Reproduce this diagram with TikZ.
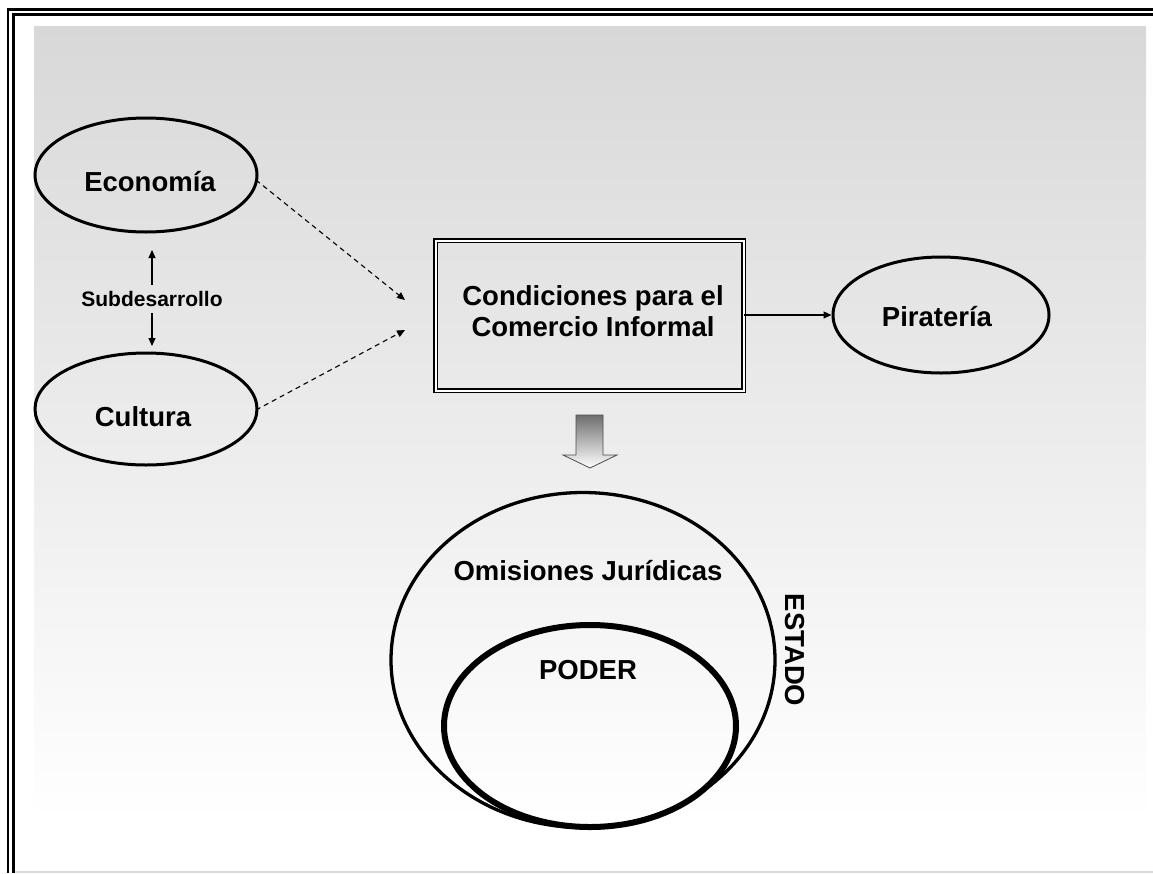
\documentclass[tikz,border=0pt]{standalone}
\usepackage{fontspec}
\setmainfont{Liberation Sans}
\usetikzlibrary{arrows.meta,shapes.geometric}
\definecolor{bgtop}{RGB}{216,216,216}
\definecolor{arrtop}{RGB}{110,110,110}
\tikzset{
  big/.style={font=\bfseries\fontsize{27.5}{31}\selectfont},
  oval/.style={ellipse, draw, line width=3pt, inner sep=0pt},
  arr/.style={-{Triangle[length=8pt,width=7pt]}, line width=1.1pt},
  darr/.style={arr, dashed, dash pattern=on 5pt off 4pt},
}
\begin{document}
\begin{tikzpicture}[x=1pt,y=-1pt]
\useasboundingbox (0,0) rectangle (1153,873);
\fill[white] (0,0) rectangle (1153,873);
% background gradient
\shade[top color=bgtop, bottom color=white] (34,26) rectangle (1146,822);
% frame
\draw[line width=2.5pt] (8,873) -- (8,9.5) -- (1153,9.5);
\draw[line width=3pt] (13.5,873) -- (13.5,14.5) -- (1153,14.5);
\draw[black!15, line width=1.5pt] (15,872) -- (1153,872);

% ellipses left
\node[oval, minimum width=222pt, minimum height=114pt] (eco) at (146,175) {};
\node[big] (ecot) at (150,182) {Economía};
\node[oval, minimum width=222pt, minimum height=112pt] (cul) at (146,409) {};
\node[big] (cult) at (143,417) {Cultura};
\node[font=\bfseries\fontsize{21}{24}\selectfont] (sub) at (152,299) {Subdesarrollo};
\draw[arr] (sub.north) ++(0,-3) coordinate (su1) (su1) -- (su1 |- 0,250) coordinate (su2);
\draw[arr] (sub.south) ++(0,3) coordinate (sd1) (sd1) -- (sd1 |- 0,346) coordinate (sd2);

% box
\node[draw, double, double distance=2pt, line width=1.2pt, minimum width=308pt, minimum height=150pt, inner sep=0pt] (box) at (589.5,315.5) {};
\node[big, align=center] (boxt) at (593,311) {Condiciones para el\\Comercio Informal};

% dashed arrows
\coordinate (t1) at (405,300);
\coordinate (t2) at (405,330);
\coordinate (e1) at (256,180);
\coordinate (c1) at (256,410);
\draw[darr] (e1) -- (t1);
\draw[darr] (c1) -- (t2);

% pirateria
\node[oval, minimum width=216pt, minimum height=116pt] (pir) at (941,315) {};
\node[big] (pirt) at (937,317) {Piratería};
\draw[arr] (box.east |- pir.west) -- (pir.west);

% block arrow
\shade[top color=arrtop, bottom color=white, draw=black!70, line width=0.8pt]
  (576,415) -- (603,415) -- (603,455) -- (617,455) -- (590,468) -- (563,455) -- (576,455) -- cycle;

% estado / poder
\node[ellipse, draw, line width=3.3pt, minimum width=384pt, minimum height=335pt, inner sep=0pt] (est) at (583,660) {};
\node[ellipse, draw, line width=6pt, minimum width=292pt, minimum height=202pt, inner sep=0pt] (pod) at (590,726) {};
\node[big] (omt) at (588,571) {Omisiones Jurídicas};
\node[big] (podt) at (588,670) {PODER};
\node[big, rotate=-90] (estt) at (795,650) {ESTADO};
\end{tikzpicture}
\end{document}
